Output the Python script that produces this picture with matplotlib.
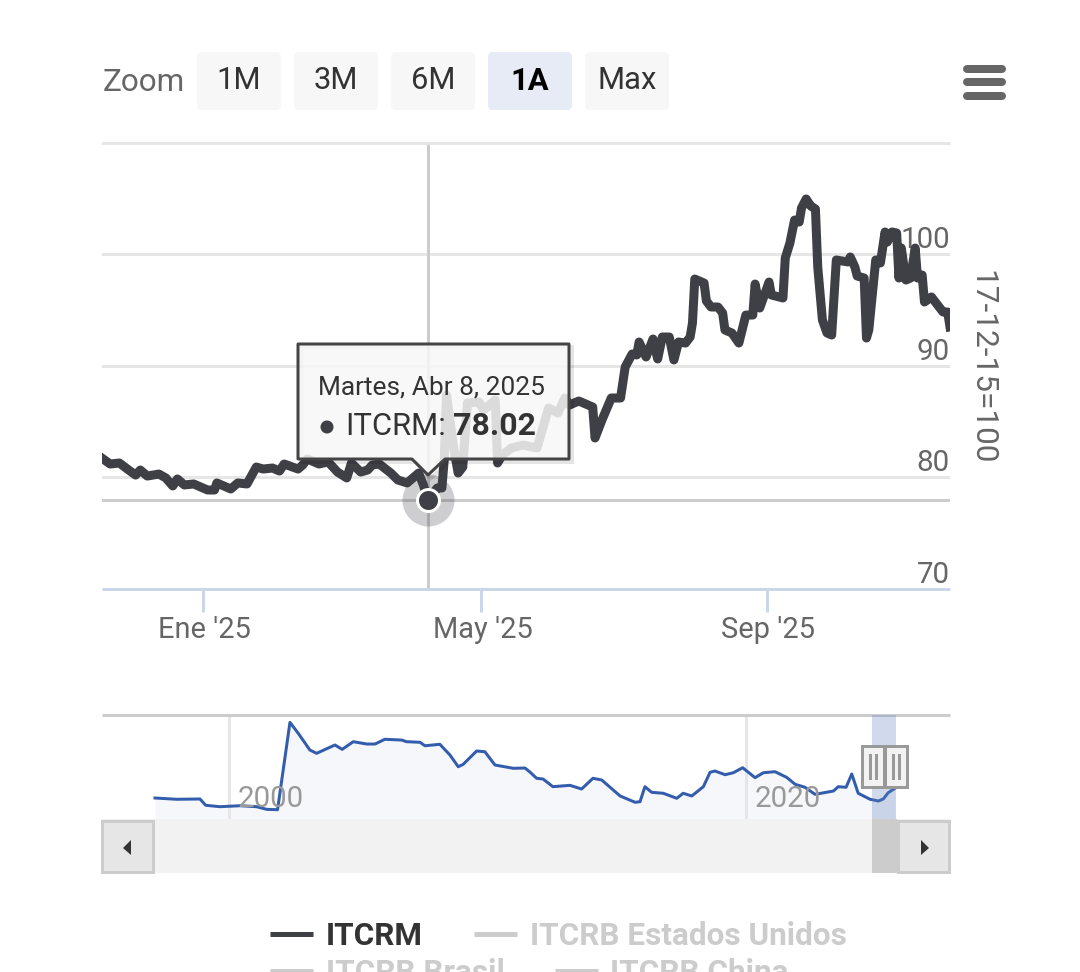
import numpy as np
import pandas as pd
import matplotlib
matplotlib.use("Agg")
import matplotlib.pyplot as plt
from matplotlib.patches import FancyBboxPatch, Polygon, Circle, Rectangle
from matplotlib.transforms import ScaledTranslation

plt.rcParams['font.family'] = ['Roboto', 'DejaVu Sans']

# days since 2025-01-01
itcrm_days = [-43, -40, -36, -32, -29, -27, -24, -19, -16, -13, -11, -8, -4, 2, 5, 6, 12, 15, 19, 23,
              26, 30, 33, 35, 41, 43, 45, 50, 54, 58, 62, 64, 68, 71, 73, 76, 81, 84, 88, 93,
              95, 97, 101, 103, 104, 105, 108, 110, 112, 114, 119, 121, 126, 127, 129, 133, 138, 144, 149, 153,
              156, 158, 162, 168, 169, 172, 176, 180, 182, 185, 187, 188, 191, 194, 196, 198, 201, 203, 205, 208,
              210, 211, 212, 216, 217, 219, 222, 224, 225, 228, 231, 234, 237, 238, 240, 244, 245, 250, 251, 253,
              255, 257, 258, 260, 262, 264, 265, 267, 269, 271, 273, 278, 279, 281, 282, 285, 286, 287, 290, 292,
              294, 295, 297, 299, 300, 301, 303, 305, 307, 308, 310, 311, 314, 319, 321, 322]
itcrm_values = [81.66, 81.21, 81.30, 80.67, 80.22, 80.67, 80.13, 80.31, 79.96, 79.24, 79.87, 79.33, 79.42, 78.88, 78.88, 79.51, 78.97, 79.51, 79.42, 80.94,
                80.76, 80.85, 80.58, 81.21, 80.76, 81.12, 81.66, 81.21, 81.39, 80.49, 79.96, 81.30, 80.49, 80.67, 81.12, 81.21, 80.40, 79.78, 79.51, 80.40,
                79.33, 78.02, 79.06, 79.06, 81.57, 87.40, 82.74, 80.40, 80.94, 86.68, 86.77, 86.05, 86.95, 81.30, 82.02, 82.65, 82.91, 82.65, 86.23, 85.78,
                87.13, 86.50, 86.86, 86.32, 83.54, 85.16, 87.13, 87.13, 89.91, 91.08, 90.99, 92.15, 90.81, 92.42, 90.63, 92.60, 92.60, 90.54, 92.15, 92.06,
                92.60, 93.86, 97.80, 97.44, 95.83, 95.29, 95.29, 94.75, 93.23, 92.96, 92.06, 94.57, 94.57, 97.35, 95.20, 97.53, 96.37, 96.10, 99.69, 101.03,
                103.09, 102.91, 104.17, 104.98, 104.35, 104.08, 98.88, 94.13, 92.96, 92.78, 99.51, 99.33, 99.78, 98.88, 98.07, 97.89, 92.51, 93.23, 99.51, 99.24,
                102.02, 101.12, 102.02, 101.93, 97.89, 100.58, 97.71, 97.89, 100.58, 97.89, 98.16, 95.74, 96.19, 94.84, 94.84, 93.50]

nav_years = [1997.14, 1997.98, 1998.88, 1999.10, 1999.65, 2000.43, 2001.07, 2001.46, 2001.88, 2002.36,
             2002.68, 2003.13, 2003.39, 2004.10, 2004.38, 2004.81, 2005.33, 2005.65, 2006.03, 2006.68,
             2006.87, 2007.39, 2007.58, 2008.16, 2008.55, 2008.87, 2009.06, 2009.58, 2009.90, 2010.29,
             2011.00, 2011.45, 2011.64, 2011.90, 2012.15, 2012.53, 2013.19, 2013.64, 2014.08, 2014.42,
             2015.13, 2015.71, 2015.90, 2016.09, 2016.35, 2016.80, 2017.32, 2017.57, 2017.90, 2018.35,
             2018.61, 2018.80, 2019.19, 2019.51, 2019.87, 2020.35, 2020.67, 2021.12, 2021.57, 2021.90,
             2022.28, 2022.67, 2023.38, 2023.57, 2023.87, 2024.09, 2024.34, 2024.80, 2025.12, 2025.31,
             2025.50, 2025.76]
nav_values = [82.0, 80.3, 80.7, 72.3, 70.4, 71.7, 70.4, 66.9, 66.4, 182.9,
              168.3, 146.0, 141.6, 152.7, 146.9, 157.1, 154.0, 154.0, 160.3, 159.3,
              157.1, 156.3, 151.7, 153.6, 139.3, 123.7, 126.9, 144.7, 143.7, 126.0,
              121.6, 122.0, 116.7, 108.3, 107.3, 97.1, 98.9, 94.0, 108.3, 106.0,
              84.7, 76.3, 77.1, 97.1, 89.6, 88.3, 81.6, 88.3, 84.7, 97.1,
              116.3, 118.0, 113.1, 115.7, 122.4, 109.1, 115.7, 117.1, 109.6, 100.3,
              96.3, 86.9, 91.3, 97.1, 96.3, 114.0, 88.3, 80.3, 78.0, 80.7,
              89.1, 94.9]

y_ticks = [70, 80, 90, 100, 110]
y_labels = ['70', '80', '90', '100', '']
x_tick_dates = ['2025-01-01', '2025-05-01', '2025-09-01']
x_tick_labels = ["Ene '25", "May '25", "Sep '25"]
hover_day = 97
hover_value = 78.02
zoom_buttons = ['1M', '3M', '6M', '1A', 'Max']

W, H = 1080, 972
DARK = '#3f3f46'


def px(n):
    # css pixels of the screenshot to points
    return n * 0.72


def axes_at(left, top, right, bottom):
    return fig.add_axes([left / W, 1 - bottom / H, (right - left) / W, (bottom - top) / H])


base = pd.Timestamp('2025-01-01')
dates = base + pd.to_timedelta(itcrm_days, unit='D')
hover_date = base + pd.Timedelta(days=hover_day)

fig = plt.figure(figsize=(W / 100, H / 100), dpi=100, facecolor='white')

# main chart
ax = axes_at(102, 143, 950, 589)
ax.set_xlim(base - pd.Timedelta(days=43.5), base + pd.Timedelta(days=322))
ax.set_ylim(70, 110)
ax.set_facecolor('none')
for s in ['left', 'right']:
    ax.spines[s].set_visible(False)
ax.spines['top'].set_color('#e6e6e6')
ax.spines['top'].set_linewidth(px(3))
ax.spines['top'].set_capstyle('butt')
ax.spines['bottom'].set_color('#ccd6eb')
ax.spines['bottom'].set_linewidth(px(3))
ax.spines['bottom'].set_capstyle('butt')
ax.yaxis.tick_right()
ax.set_yticks(y_ticks)
ax.set_yticklabels(y_labels, fontsize=px(29.5), color='#666666', ha='right', va='bottom')
ax.tick_params(axis='y', length=0, pad=0)
ax.grid(axis='y', color='#e6e6e6', lw=px(3))
ax.set_axisbelow(True)
ax.set_xticks(pd.to_datetime(x_tick_dates))
ax.set_xticklabels(x_tick_labels, fontsize=px(29), color='#666666')
ax.tick_params(axis='x', length=px(23), width=px(3), color='#ccd6eb', pad=px(4))
shift = ScaledTranslation(1.5 / 100, 0, fig.dpi_scale_trans)
for lab in ax.get_xticklabels():
    lab.set_transform(lab.get_transform() + shift)
ax.axvline(hover_date, color='#cccccc', lw=px(3), zorder=1.5)
ax.axhline(hover_value, color='#cccccc', lw=px(3), zorder=1.5)
ax.plot(dates, itcrm_values, color=DARK, lw=px(9), solid_joinstyle='round', zorder=2)
ax.plot([hover_date], [hover_value], 'o', ms=px(52), color=DARK, alpha=0.25, mew=0, zorder=3, clip_on=False)
ax.plot([hover_date], [hover_value], 'o', ms=px(22), color=DARK, mec='white', mew=px(3), zorder=4)

# navigator
nav = axes_at(102, 715, 950, 819)
nav.set_xlim(1995.09, 2027.89)
nav.set_ylim(54, 192.7)
nav.set_facecolor('none')
for s in ['left', 'right', 'bottom']:
    nav.spines[s].set_visible(False)
nav.spines['top'].set_color('#cccccc')
nav.spines['top'].set_linewidth(px(3))
nav.spines['top'].set_capstyle('butt')
nav.set_yticks([])
nav.set_xticks([2000, 2020])
nav.set_xticklabels([])
nav.tick_params(axis='x', length=0)
nav.fill_between(nav_years, nav_values, 54, color='#f5f7fb', lw=0, zorder=1)
nav.axvline(2000, color='#e6e6e6', lw=px(3), zorder=1.2)
nav.axvline(2020, color='#e6e6e6', lw=px(3), zorder=1.2)
nav.plot(nav_years, nav_values, color='#335cad', lw=px(3), zorder=2)
for yr in [2000, 2020]:
    nav.annotate(str(yr), (yr, 54), xytext=(px(9), px(20)), textcoords='offset points',
                 fontsize=px(29.5), color='#999999', ha='left', va='center', zorder=3)

# everything else goes on a pixel overlay
ov = fig.add_axes([0, 0, 1, 1], zorder=5)
ov.set_xlim(0, W)
ov.set_ylim(H, 0)
ov.axis('off')

# zoom buttons
ov.text(102.5, 82.5, 'Zoom', fontsize=px(31.5), color='#666666', va='center')
for i, b in enumerate(zoom_buttons):
    x0 = 197 + i * 97.0
    active = b == '1A'
    ov.add_patch(FancyBboxPatch((x0 + 3, 55), 78, 52, boxstyle='round,pad=3,rounding_size=5',
                                fc='#e6ebf5' if active else '#f7f7f7', ec='none'))
    ov.text(x0 + 42, 80.5, b, fontsize=px(31), color='black' if active else '#333333',
            fontweight='bold' if active else 'normal', ha='center', va='center')

# menu icon
for y in [69, 82.5, 96]:
    ov.plot([966.5, 1002], [y, y], color='#666666', lw=px(8), solid_capstyle='round')

ov.text(982, 367, '17-12-15=100', fontsize=px(31.5), color='#666666', rotation=270,
        ha='center', va='center')

# tooltip
tip = [(298, 344), (569, 344), (569, 459), (445, 459), (428, 475), (412, 459), (298, 459)]
shadow = [(x + 3, y + 3) for x, y in tip]
ov.add_patch(Polygon(shadow, closed=True, fc='none', ec=(0, 0, 0, 0.1), lw=px(4)))
ov.add_patch(Polygon(tip, closed=True, fc=(0.97, 0.97, 0.97, 0.85), ec='#444444', lw=px(3), joinstyle='round'))
ov.text(318, 387, 'Martes, Abr 8, 2025', fontsize=px(26.2), color='#333333', va='center')
ov.add_patch(Circle((327, 427), 6.5, fc=DARK, ec='none'))
ov.text(345, 426, 'ITCRM:', fontsize=px(31), color='#333333', va='center')
ov.text(453.5, 426, f'{hover_value:.2f}', fontsize=px(32), color='#333333', fontweight='bold', va='center')

# navigator mask and handles
ov.add_patch(Rectangle((872, 715), 24, 104, fc=(0.4, 0.52, 0.76, 0.3), ec='none'))
for x0 in [862, 885]:
    ov.add_patch(Rectangle((x0, 746), 22, 41, fc='#f2f2f2', ec='#999999', lw=px(3)))
    for dx in [8, 14]:
        ov.plot([x0 + dx, x0 + dx], [755, 778], color='#999999', lw=px(3))

# scrollbar
ov.add_patch(Rectangle((102, 819), 848, 54, fc='#f2f2f2', ec='none'))
ov.add_patch(Rectangle((872, 819), 25, 54, fc='#cccccc', ec='none'))
ov.add_patch(Rectangle((101.5, 820.5), 51, 51, fc='#e6e6e6', ec='#cccccc', lw=px(3)))
ov.add_patch(Rectangle((898, 820.5), 51, 51, fc='#e6e6e6', ec='#cccccc', lw=px(3)))
ov.add_patch(Polygon([(131, 840), (123, 848), (131, 855)], closed=True, fc='#333333', ec='none'))
ov.add_patch(Polygon([(921, 840), (929, 848), (921, 855)], closed=True, fc='#333333', ec='none'))

# legend, second row runs off the bottom of the image
legend_rows = [(270, 934, 'ITCRM', DARK, '#333333'),
               (474, 934, 'ITCRB Estados Unidos', '#cccccc', '#cccccc'),
               (270, 971, 'ITCRB Brasil', '#cccccc', '#cccccc'),
               (555, 971, 'ITCRB China', '#cccccc', '#cccccc')]
for x0, y, name, line_c, text_c in legend_rows:
    ov.plot([x0, x0 + 43], [y, y], color=line_c, lw=px(5), solid_capstyle='butt')
    ov.text(x0 + 55.5, y + 11, name, fontsize=px(31.5), color=text_c, fontweight='bold', va='baseline')

fig.savefig('out.png', dpi=100)
